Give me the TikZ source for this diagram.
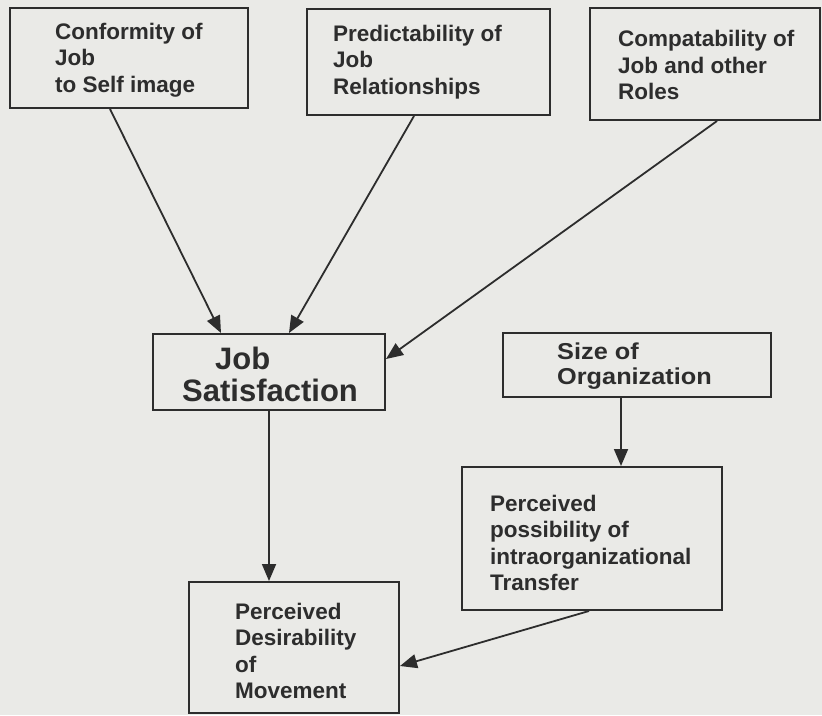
\documentclass[tikz,border=0pt]{standalone}
\usepackage{fontspec}
\setmainfont{Liberation Sans}
\newfontfamily\widesans[FakeStretch=1.1]{Liberation Sans}
\usetikzlibrary{arrows.meta,calc}
\definecolor{paper}{RGB}{234,234,231}
\definecolor{ink}{RGB}{45,45,45}
\tikzset{
  box/.style={draw=ink, line width=2pt, rectangle, inner sep=0pt},
  lbl/.style={anchor=west, align=left, inner sep=0pt, text=ink,
    font=\fontsize{22.5}{26.5}\selectfont\bfseries},
  biglbl/.style={anchor=west, align=left, inner sep=0pt, text=ink,
    font=\fontsize{31}{32}\selectfont\bfseries},
  midlbl/.style={anchor=west, align=left, inner sep=0pt, text=ink,
    font=\widesans\fontsize{23}{25}\selectfont\bfseries},
  link/.style={draw=ink, line width=1.8pt,
    -{Triangle[length=17pt,width=14pt]}},
}
\begin{document}
\begin{tikzpicture}[x=1pt,y=-1pt]
  \fill[paper] (0,0) rectangle (822,715);
  \useasboundingbox (0,0) rectangle (822,715);

  % boxes
  \node[box, minimum width=238, minimum height=100] (conf) at (129,58) {};
  \node[box, minimum width=243, minimum height=106] (pred) at (428.5,62) {};
  \node[box, minimum width=230, minimum height=112] (comp) at (705,64) {};
  \node[box, minimum width=232, minimum height=76] (js) at (269,372) {};
  \node[box, minimum width=268, minimum height=64] (size) at (637,365) {};
  \node[box, minimum width=260, minimum height=143] (pp) at (592,538.5) {};
  \node[box, minimum width=210, minimum height=131] (pdm) at (294,647.5) {};

  % labels
  \node[lbl] (confT) at (55,60) {Conformity of\\Job\\to Self image};
  \node[lbl] (predT) at (333,62) {Predictability of\\Job\\Relationships};
  \node[lbl] (compT) at (618,65) {Compatability of\\Job and other\\Roles};
  \node[biglbl] (jsT) at (182,374) {\hspace*{33pt}Job\\Satisfaction};
  \node[midlbl] (sizeT) at (557,366) {Size of\\Organization};
  \node[lbl] (ppT) at (490,543) {Perceived\\possibility of\\intraorganizational\\Transfer};
  \node[lbl] (pdmT) at (235,651) {Perceived\\Desirability\\of\\Movement};

  % connectors
  \draw[link] ([xshift=101]conf.south west) -- ([xshift=69]js.north west);
  \draw[link] ([xshift=108]pred.south west) -- ([xshift=137]js.north west);
  \draw[link] ([xshift=128]comp.south west) -- ([yshift=-26]js.north east);
  \draw[link] ([xshift=117]js.south west) coordinate (jsb) -- (jsb |- pdm.north);
  \draw[link] ([xshift=119]size.south west) coordinate (szb) -- (szb |- pp.north);
  \draw[link] ([xshift=128]pp.south west) -- ([yshift=-85]pdm.north east);
\end{tikzpicture}
\end{document}
